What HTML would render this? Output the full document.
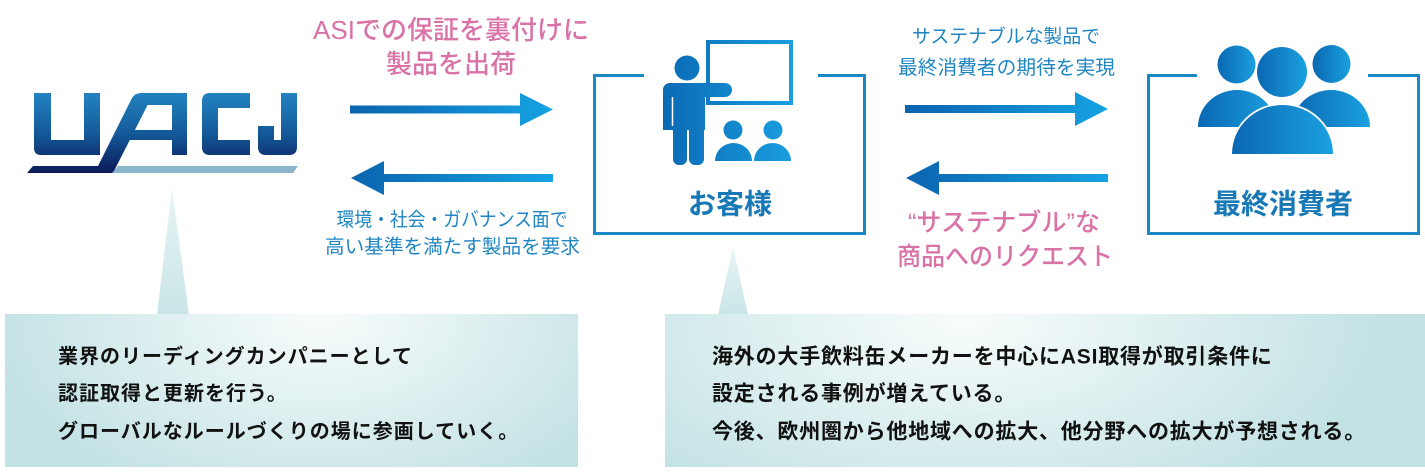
<!DOCTYPE html>
<html><head><meta charset="utf-8">
<style>
html,body{margin:0;padding:0;background:#fff;}
svg{display:block;}
text{font-family:"Liberation Sans","Noto Sans CJK JP",sans-serif;}
</style></head>
<body>
<svg width="1425" height="473" viewBox="0 0 1425 473" xmlns="http://www.w3.org/2000/svg">
<defs>
  <linearGradient id="logo" x1="0" y1="93" x2="0" y2="173" gradientUnits="userSpaceOnUse">
    <stop offset="0" stop-color="#2483c2"/>
    <stop offset="0.5" stop-color="#145a9a"/>
    <stop offset="1" stop-color="#0b1a58"/>
  </linearGradient>
  <linearGradient id="ar1" x1="350" y1="0" x2="553" y2="0" gradientUnits="userSpaceOnUse">
    <stop offset="0" stop-color="#0b63ae"/><stop offset="1" stop-color="#15a3e3"/>
  </linearGradient>
  <linearGradient id="ar2" x1="905" y1="0" x2="1108" y2="0" gradientUnits="userSpaceOnUse">
    <stop offset="0" stop-color="#0b63ae"/><stop offset="1" stop-color="#15a3e3"/>
  </linearGradient>
  <linearGradient id="ico" x1="663" y1="0" x2="793" y2="0" gradientUnits="userSpaceOnUse">
    <stop offset="0" stop-color="#0a69b4"/><stop offset="1" stop-color="#1a9fe0"/>
  </linearGradient>
  <linearGradient id="pg" x1="0" y1="0" x2="1" y2="0">
    <stop offset="0" stop-color="#0a67b2"/><stop offset="1" stop-color="#1ba1e0"/>
  </linearGradient>
  <radialGradient id="p1" cx="320" cy="318" r="330" gradientUnits="userSpaceOnUse" gradientTransform="translate(320,318) scale(1,0.6) translate(-320,-318)">
    <stop offset="0" stop-color="#f8fcfc"/><stop offset="1" stop-color="#c3e2e4"/>
  </radialGradient>
  <radialGradient id="p2" cx="965" cy="322" r="420" gradientUnits="userSpaceOnUse" gradientTransform="translate(965,322) scale(1,0.5) translate(-965,-322)">
    <stop offset="0" stop-color="#f8fcfc"/><stop offset="1" stop-color="#c3e2e4"/>
  </radialGradient>
  <linearGradient id="tri" x1="0" y1="0" x2="0" y2="1">
    <stop offset="0" stop-color="#e8f4f5"/><stop offset="1" stop-color="#c9e5e7"/>
  </linearGradient>
</defs>

<!-- UACJ logo -->
<path fill="url(#logo)" d="M34,93 H51 V140 H84 V93 H100 V155 H41 Q34,155 34,148 Z"/>
<path fill="url(#logo)" fill-rule="evenodd" d="M27,173 L33,166 L98,166 L132,98 Q135,93 141,93 L187,93 L187,155 L172,155 L172,140 L129.8,140 L113,173 Z M147.6,105 L172,105 L172,130 L134.9,130 Z"/>
<path fill="url(#logo)" d="M250,93 H210 Q202,93 202,101 V147 Q202,155 210,155 H250 V140 H218 V108 H250 Z"/>
<path fill="url(#logo)" d="M281,93 H297 V147 Q297,155 289,155 H266 Q258,155 258,147 V126 H274 V140 H281 Z"/>
<polygon fill="#8bb5cc" points="112,173 118,166 298,166 293,173"/>

<!-- Left arrows -->
<rect x="350" y="105.5" width="172" height="8" fill="url(#ar1)"/>
<polygon points="520,93 553,109.5 520,126" fill="url(#ar1)"/>
<polygon points="351,178 384,161 384,195" fill="url(#ar1)"/>
<rect x="383" y="174" width="170" height="8" fill="url(#ar1)"/>

<!-- Right arrows -->
<rect x="905" y="105" width="172" height="8" fill="url(#ar2)"/>
<polygon points="1075,92 1108,109 1075,126" fill="url(#ar2)"/>
<polygon points="906,178 939,161 939,195" fill="url(#ar2)"/>
<rect x="938" y="174" width="170" height="8" fill="url(#ar2)"/>

<!-- Customer box -->
<path d="M644,75.5 H594.5 V233.5 H864.5 V75.5 H818" fill="none" stroke="#1a88c4" stroke-width="3"/>
<!-- Teacher icon -->
<rect x="708" y="42" width="83" height="61" fill="none" stroke="url(#ico)" stroke-width="4"/>
<circle cx="687" cy="68" r="12.5" fill="url(#ico)"/>
<rect x="663" y="83" width="69" height="14" rx="7" fill="url(#ico)"/>
<path d="M672,83 H705 V130 H663 V92 Q663,83 672,83 Z" fill="url(#ico)"/>
<rect x="663" y="88" width="10" height="37" rx="5" fill="url(#ico)"/>
<rect x="673" y="118" width="14" height="47" rx="6" fill="url(#ico)"/>
<rect x="689" y="118" width="15" height="47" rx="6" fill="url(#ico)"/>
<line x1="672.5" y1="97" x2="672.5" y2="126" stroke="#fff" stroke-width="1.5"/>
<line x1="688" y1="132" x2="688" y2="166" stroke="#fff" stroke-width="1.5"/>
<circle cx="733" cy="130" r="9.5" fill="url(#ico)"/>
<circle cx="773" cy="130" r="9.5" fill="url(#ico)"/>
<path d="M715,161 A18.5,18 0 0 1 752,161 Z" fill="url(#ico)"/>
<path d="M754,161 A18.5,18 0 0 1 791,161 Z" fill="url(#ico)"/>
<text x="730" y="204" text-anchor="middle" dominant-baseline="central" font-size="28" font-weight="bold" fill="#1879b6">お客様</text>

<!-- Consumer box -->
<path d="M1197,75.5 H1148.5 V233.5 H1418.5 V75.5 H1368" fill="none" stroke="#1a88c4" stroke-width="3"/>
<path d="M1198,127 A39,37 0 0 1 1276,127 Z" fill="url(#pg)"/>
<path d="M1292,127 A39,37 0 0 1 1370,127 Z" fill="url(#pg)"/>
<circle cx="1236.5" cy="64.5" r="19" fill="url(#pg)"/>
<circle cx="1331.5" cy="64" r="19" fill="url(#pg)"/>
<circle cx="1282" cy="72" r="25" fill="url(#pg)" stroke="#fff" stroke-width="3" paint-order="stroke"/>
<path d="M1232,154 A50.5,49 0 0 1 1333,154 Z" fill="url(#pg)" stroke="#fff" stroke-width="3.5" paint-order="stroke"/>
<text x="1283" y="204" text-anchor="middle" dominant-baseline="central" font-size="28" font-weight="bold" fill="#1879b6">最終消費者</text>

<!-- Captions -->
<text x="451" y="30" text-anchor="middle" dominant-baseline="central" font-size="26" font-weight="500" fill="#d872a7">ASIでの保証を裏付けに</text>
<text x="451" y="64" text-anchor="middle" dominant-baseline="central" font-size="26" font-weight="500" fill="#d872a7">製品を出荷</text>
<text x="452" y="220" text-anchor="middle" dominant-baseline="central" font-size="19.5" fill="#1f86c2" textLength="231" lengthAdjust="spacingAndGlyphs">環境・社会・ガバナンス面で</text>
<text x="452.5" y="247" text-anchor="middle" dominant-baseline="central" font-size="19.5" fill="#1f86c2" textLength="255" lengthAdjust="spacingAndGlyphs">高い基準を満たす製品を要求</text>

<text x="1006" y="37" text-anchor="middle" dominant-baseline="central" font-size="19" fill="#1f86c2" textLength="188" lengthAdjust="spacingAndGlyphs">サステナブルな製品で</text>
<text x="1006.5" y="68" text-anchor="middle" dominant-baseline="central" font-size="19.5" fill="#1f86c2" textLength="217" lengthAdjust="spacingAndGlyphs">最終消費者の期待を実現</text>
<text x="1004" y="223" text-anchor="middle" dominant-baseline="central" font-size="25" font-weight="500" fill="#d872a7" textLength="192" lengthAdjust="spacingAndGlyphs">“サステナブル”な</text>
<text x="1005" y="257" text-anchor="middle" dominant-baseline="central" font-size="25" font-weight="500" fill="#d872a7" textLength="216" lengthAdjust="spacingAndGlyphs">商品へのリクエスト</text>

<!-- Bottom panels -->
<polygon points="172,188 157,315 189,315" fill="url(#tri)"/>
<rect x="5" y="314" width="573" height="153" fill="url(#p1)"/>
<polygon points="733,247 718,315 748,315" fill="url(#tri)"/>
<rect x="665" y="314" width="760" height="153" fill="url(#p2)"/>

<g font-size="20" font-weight="bold" fill="#111" letter-spacing="1">
<text x="58" y="357" dominant-baseline="central">業界のリーディングカンパニーとして</text>
<text x="58" y="394" dominant-baseline="central">認証取得と更新を行う。</text>
<text x="58" y="432" dominant-baseline="central">グローバルなルールづくりの場に参画していく。</text>
</g>
<g font-size="21" font-weight="bold" fill="#111" letter-spacing="0.8">
<text x="712" y="357" dominant-baseline="central">海外の大手飲料缶メーカーを中心にASI取得が取引条件に</text>
<text x="712" y="394" dominant-baseline="central">設定される事例が増えている。</text>
<text x="712" y="432" dominant-baseline="central">今後、欧州圏から他地域への拡大、他分野への拡大が予想される。</text>
</g>
</svg>
</body></html>
